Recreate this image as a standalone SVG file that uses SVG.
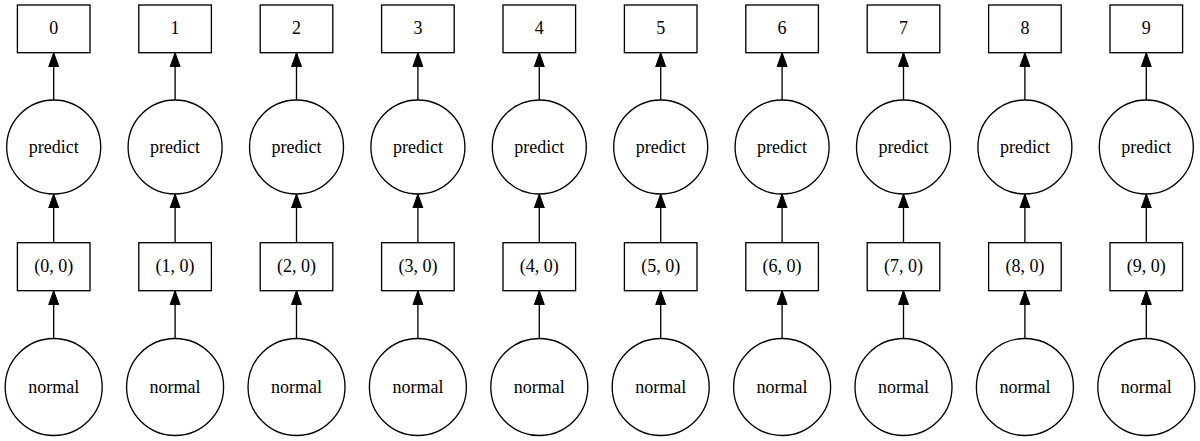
<svg xmlns="http://www.w3.org/2000/svg" width="1200" height="441" viewBox="0 0 1200 441">
<style>
.n rect, .n circle { fill: #fff; stroke: #000; stroke-width: 1.33; }
.n text { font-family: 'Liberation Serif', 'Times New Roman', serif; font-size: 18px; text-anchor: middle; fill: #000; stroke: none; }
.e line { stroke: #000; stroke-width: 1.33; marker-end: url(#arr); }
</style>
<defs>
<marker id="arr" markerUnits="userSpaceOnUse" markerWidth="15" markerHeight="12" viewBox="0 -6 15 12" refX="14" refY="0" orient="auto">
<path d="M0,-5 L14,0 L0,5 z" fill="#000" stroke="#000" stroke-width="1"/>
</marker>
</defs>
<rect width="1200" height="441" fill="#fff"/>
<g id="edges" class="e">
<line x1="53.7" y1="100" x2="53.7" y2="52.7"/><line x1="53.7" y1="242.7" x2="53.7" y2="194"/><line x1="53.7" y1="338.5" x2="53.7" y2="290.7"/>
<line x1="175.1" y1="100" x2="175.1" y2="52.7"/><line x1="175.1" y1="242.7" x2="175.1" y2="194"/><line x1="175.1" y1="338.5" x2="175.1" y2="290.7"/>
<line x1="296.5" y1="100" x2="296.5" y2="52.7"/><line x1="296.5" y1="242.7" x2="296.5" y2="194"/><line x1="296.5" y1="338.5" x2="296.5" y2="290.7"/>
<line x1="417.9" y1="100" x2="417.9" y2="52.7"/><line x1="417.9" y1="242.7" x2="417.9" y2="194"/><line x1="417.9" y1="338.5" x2="417.9" y2="290.7"/>
<line x1="539.3" y1="100" x2="539.3" y2="52.7"/><line x1="539.3" y1="242.7" x2="539.3" y2="194"/><line x1="539.3" y1="338.5" x2="539.3" y2="290.7"/>
<line x1="660.7" y1="100" x2="660.7" y2="52.7"/><line x1="660.7" y1="242.7" x2="660.7" y2="194"/><line x1="660.7" y1="338.5" x2="660.7" y2="290.7"/>
<line x1="782.1" y1="100" x2="782.1" y2="52.7"/><line x1="782.1" y1="242.7" x2="782.1" y2="194"/><line x1="782.1" y1="338.5" x2="782.1" y2="290.7"/>
<line x1="903.5" y1="100" x2="903.5" y2="52.7"/><line x1="903.5" y1="242.7" x2="903.5" y2="194"/><line x1="903.5" y1="338.5" x2="903.5" y2="290.7"/>
<line x1="1024.9" y1="100" x2="1024.9" y2="52.7"/><line x1="1024.9" y1="242.7" x2="1024.9" y2="194"/><line x1="1024.9" y1="338.5" x2="1024.9" y2="290.7"/>
<line x1="1146.3" y1="100" x2="1146.3" y2="52.7"/><line x1="1146.3" y1="242.7" x2="1146.3" y2="194"/><line x1="1146.3" y1="338.5" x2="1146.3" y2="290.7"/>
</g>
<g id="out0" class="n"><rect x="17.4" y="5" width="72.6" height="47.7"/><text x="53.7" y="34">0</text></g>
<g id="predict0" class="n"><circle cx="53.7" cy="147" r="47"/><text x="53.7" y="153">predict</text></g>
<g id="chunk0" class="n"><rect x="17.4" y="242.7" width="72.6" height="48"/><text x="53.7" y="272">(0, 0)</text></g>
<g id="normal0" class="n"><circle cx="53.7" cy="387" r="48.5"/><text x="53.7" y="393">normal</text></g>
<g id="out1" class="n"><rect x="138.8" y="5" width="72.6" height="47.7"/><text x="175.1" y="34">1</text></g>
<g id="predict1" class="n"><circle cx="175.1" cy="147" r="47"/><text x="175.1" y="153">predict</text></g>
<g id="chunk1" class="n"><rect x="138.8" y="242.7" width="72.6" height="48"/><text x="175.1" y="272">(1, 0)</text></g>
<g id="normal1" class="n"><circle cx="175.1" cy="387" r="48.5"/><text x="175.1" y="393">normal</text></g>
<g id="out2" class="n"><rect x="260.2" y="5" width="72.6" height="47.7"/><text x="296.5" y="34">2</text></g>
<g id="predict2" class="n"><circle cx="296.5" cy="147" r="47"/><text x="296.5" y="153">predict</text></g>
<g id="chunk2" class="n"><rect x="260.2" y="242.7" width="72.6" height="48"/><text x="296.5" y="272">(2, 0)</text></g>
<g id="normal2" class="n"><circle cx="296.5" cy="387" r="48.5"/><text x="296.5" y="393">normal</text></g>
<g id="out3" class="n"><rect x="381.6" y="5" width="72.6" height="47.7"/><text x="417.9" y="34">3</text></g>
<g id="predict3" class="n"><circle cx="417.9" cy="147" r="47"/><text x="417.9" y="153">predict</text></g>
<g id="chunk3" class="n"><rect x="381.6" y="242.7" width="72.6" height="48"/><text x="417.9" y="272">(3, 0)</text></g>
<g id="normal3" class="n"><circle cx="417.9" cy="387" r="48.5"/><text x="417.9" y="393">normal</text></g>
<g id="out4" class="n"><rect x="503" y="5" width="72.6" height="47.7"/><text x="539.3" y="34">4</text></g>
<g id="predict4" class="n"><circle cx="539.3" cy="147" r="47"/><text x="539.3" y="153">predict</text></g>
<g id="chunk4" class="n"><rect x="503" y="242.7" width="72.6" height="48"/><text x="539.3" y="272">(4, 0)</text></g>
<g id="normal4" class="n"><circle cx="539.3" cy="387" r="48.5"/><text x="539.3" y="393">normal</text></g>
<g id="out5" class="n"><rect x="624.4" y="5" width="72.6" height="47.7"/><text x="660.7" y="34">5</text></g>
<g id="predict5" class="n"><circle cx="660.7" cy="147" r="47"/><text x="660.7" y="153">predict</text></g>
<g id="chunk5" class="n"><rect x="624.4" y="242.7" width="72.6" height="48"/><text x="660.7" y="272">(5, 0)</text></g>
<g id="normal5" class="n"><circle cx="660.7" cy="387" r="48.5"/><text x="660.7" y="393">normal</text></g>
<g id="out6" class="n"><rect x="745.8" y="5" width="72.6" height="47.7"/><text x="782.1" y="34">6</text></g>
<g id="predict6" class="n"><circle cx="782.1" cy="147" r="47"/><text x="782.1" y="153">predict</text></g>
<g id="chunk6" class="n"><rect x="745.8" y="242.7" width="72.6" height="48"/><text x="782.1" y="272">(6, 0)</text></g>
<g id="normal6" class="n"><circle cx="782.1" cy="387" r="48.5"/><text x="782.1" y="393">normal</text></g>
<g id="out7" class="n"><rect x="867.2" y="5" width="72.6" height="47.7"/><text x="903.5" y="34">7</text></g>
<g id="predict7" class="n"><circle cx="903.5" cy="147" r="47"/><text x="903.5" y="153">predict</text></g>
<g id="chunk7" class="n"><rect x="867.2" y="242.7" width="72.6" height="48"/><text x="903.5" y="272">(7, 0)</text></g>
<g id="normal7" class="n"><circle cx="903.5" cy="387" r="48.5"/><text x="903.5" y="393">normal</text></g>
<g id="out8" class="n"><rect x="988.6" y="5" width="72.6" height="47.7"/><text x="1024.9" y="34">8</text></g>
<g id="predict8" class="n"><circle cx="1024.9" cy="147" r="47"/><text x="1024.9" y="153">predict</text></g>
<g id="chunk8" class="n"><rect x="988.6" y="242.7" width="72.6" height="48"/><text x="1024.9" y="272">(8, 0)</text></g>
<g id="normal8" class="n"><circle cx="1024.9" cy="387" r="48.5"/><text x="1024.9" y="393">normal</text></g>
<g id="out9" class="n"><rect x="1110" y="5" width="72.6" height="47.7"/><text x="1146.3" y="34">9</text></g>
<g id="predict9" class="n"><circle cx="1146.3" cy="147" r="47"/><text x="1146.3" y="153">predict</text></g>
<g id="chunk9" class="n"><rect x="1110" y="242.7" width="72.6" height="48"/><text x="1146.3" y="272">(9, 0)</text></g>
<g id="normal9" class="n"><circle cx="1146.3" cy="387" r="48.5"/><text x="1146.3" y="393">normal</text></g>
</svg>
